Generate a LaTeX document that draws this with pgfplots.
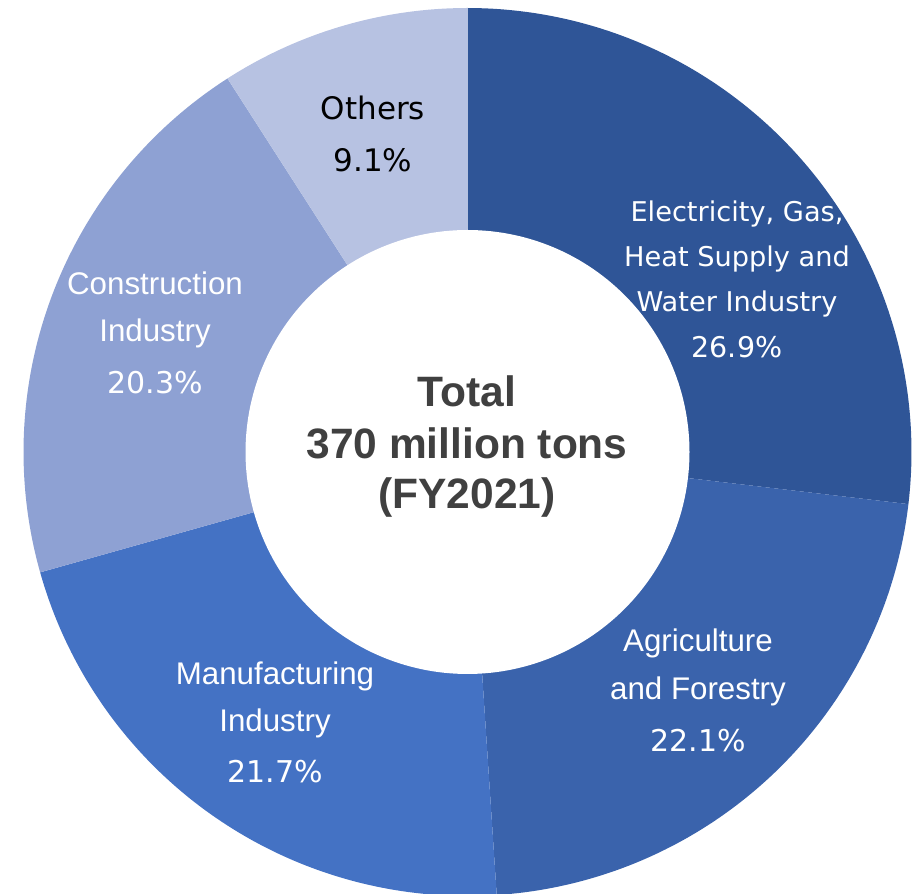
\documentclass[border=0pt]{standalone}
\usepackage{pgfplots}
\usepackage{pgfplotstable}
\pgfplotsset{compat=1.18}
\usepackage{fontspec}
\setmainfont{Liberation Sans}
\newfontfamily\verd{DejaVu Sans}
\newfontfamily\arl{Liberation Sans}
\definecolor{cElec}{HTML}{2F5597}
\definecolor{cAgri}{HTML}{3A63AC}
\definecolor{cManu}{HTML}{4472C4}
\definecolor{cCons}{HTML}{8EA1D3}
\definecolor{cOth}{HTML}{B7C2E2}
\definecolor{ctxt}{HTML}{404040}
\pgfplotstableread{
sector share
Electricity 26.9
Agriculture 22.1
Manufacturing 21.7
Construction 20.3
Others 9.1
}\shares
\newcommand{\getshare}[2]{\pgfplotstablegetelem{#1}{share}\of\shares\let#2\pgfplotsretval}
\begin{document}
\begin{tikzpicture}
\getshare{0}{\sA}\getshare{1}{\sB}\getshare{2}{\sC}\getshare{3}{\sD}\getshare{4}{\sE}
\pgfmathsetmacro{\tot}{\sA+\sB+\sC+\sD+\sE}
\pgfmathsetmacro{\aA}{90}
\pgfmathsetmacro{\aB}{\aA-360*\sA/\tot}
\pgfmathsetmacro{\aC}{\aB-360*\sB/\tot}
\pgfmathsetmacro{\aD}{\aC-360*\sC/\tot}
\pgfmathsetmacro{\aE}{\aD-360*\sD/\tot}
\pgfmathsetmacro{\aF}{\aE-360*\sE/\tot}
\def\cx{467.5}\def\cy{442}\def\R{444}\def\r{222}
\begin{axis}[x=1bp,y=1bp,xmin=0,xmax=912,ymin=0,ymax=894,
  hide axis, clip=true, scale only axis]
\addplot[fill=cElec,draw=none,domain=\aB:\aA,samples=120] ({\cx+\R*cos(x)},{\cy+\R*sin(x)}) -- (axis cs:\cx,\cy) -- cycle;
\addplot[fill=cAgri,draw=none,domain=\aC:\aB,samples=120] ({\cx+\R*cos(x)},{\cy+\R*sin(x)}) -- (axis cs:\cx,\cy) -- cycle;
\addplot[fill=cManu,draw=none,domain=\aD:\aC,samples=120] ({\cx+\R*cos(x)},{\cy+\R*sin(x)}) -- (axis cs:\cx,\cy) -- cycle;
\addplot[fill=cCons,draw=none,domain=\aE:\aD,samples=120] ({\cx+\R*cos(x)},{\cy+\R*sin(x)}) -- (axis cs:\cx,\cy) -- cycle;
\addplot[fill=cOth,draw=none,domain=\aF:\aE,samples=60] ({\cx+\R*cos(x)},{\cy+\R*sin(x)}) -- (axis cs:\cx,\cy) -- cycle;
\addplot[fill=white,draw=none,domain=0:360,samples=241] ({\cx+\r*cos(x)},{\cy+\r*sin(x)}) -- cycle;
% Electricity
\begin{scope}[every node/.style={anchor=base,text=white,font=\verd\fontsize{27.2bp}{30bp}\selectfont}]
\node at (axis cs:737,894-222) {Electricity, Gas,};
\node at (axis cs:737,894-267) {Heat Supply and};
\node at (axis cs:737,894-312) {Water Industry};
\node[font=\verd\fontsize{28.5bp}{30bp}\selectfont] at (axis cs:737,894-358) {26.9\%};
\end{scope}
\begin{scope}[every node/.style={anchor=base,text=white,font=\arl\fontsize{31.3bp}{34bp}\selectfont}]
\node at (axis cs:698,894-652) {Agriculture};
\node at (axis cs:698,894-700) {and Forestry};
\node at (axis cs:275,894-685) {Manufacturing};
\node at (axis cs:275,894-732) {Industry};
\node at (axis cs:155,894-295) {Construction};
\node at (axis cs:155,894-342) {Industry};
\end{scope}
\begin{scope}[every node/.style={anchor=base,text=white,font=\verd\fontsize{30bp}{32bp}\selectfont}]
\node at (axis cs:698,894-752) {22.1\%};
\node at (axis cs:275,894-783) {21.7\%};
\node at (axis cs:155,894-394) {20.3\%};
\end{scope}
\begin{scope}[every node/.style={anchor=base,text=black,font=\verd\fontsize{31bp}{32bp}\selectfont}]
\node at (axis cs:373,894-120) {Others};
\node at (axis cs:373,894-172) {9.1\%};
\end{scope}
\begin{scope}[every node/.style={anchor=base,text=ctxt,font=\arl\bfseries\fontsize{42.5bp}{46bp}\selectfont}]
\node at (axis cs:467,894-407) {Total};
\node at (axis cs:467,894-459) {370 million tons};
\node at (axis cs:467,894-509) {(FY2021)};
\end{scope}
\end{axis}
\pgfresetboundingbox
\path (current axis.south west) rectangle (current axis.north east);
\end{tikzpicture}
\end{document}
